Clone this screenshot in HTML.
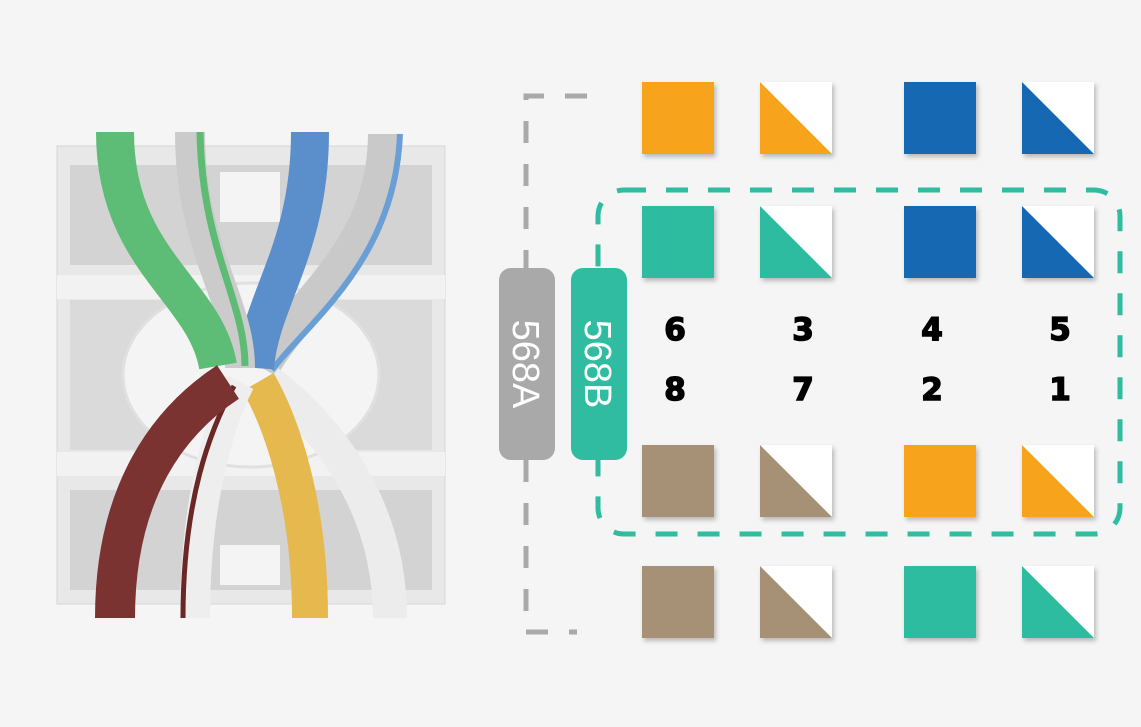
<!DOCTYPE html>
<html><head><style>
body{margin:0;width:1141px;height:722px;background:#f5f5f5;overflow:hidden;font-family:"Liberation Sans",sans-serif}
</style></head><body>
<svg width="1141" height="722" xmlns="http://www.w3.org/2000/svg">
<defs>
<filter id="sh" x="-20%" y="-20%" width="150%" height="150%"><feDropShadow dx="2" dy="3" stdDeviation="2.5" flood-color="#000" flood-opacity="0.25"/></filter>
</defs>
<!-- connector body -->
<rect x="57" y="146" width="388" height="458" fill="#e8e8e8" stroke="#d6d6d6"/>
<rect x="70" y="165" width="362" height="100" fill="#d3d3d3"/>
<rect x="70" y="490" width="362" height="100" fill="#d3d3d3"/>
<rect x="57" y="275" width="388" height="24" fill="#f2f2f2"/>
<rect x="57" y="452" width="388" height="24" fill="#f2f2f2"/>
<rect x="70" y="300" width="362" height="150" fill="#dadada"/>
<ellipse cx="251" cy="375" rx="128" ry="92" fill="#f4f4f4" stroke="#e0e0e0" stroke-width="3"/>
<rect x="220" y="172" width="60" height="50" fill="#f4f4f4"/>
<rect x="220" y="545" width="60" height="40" fill="#f4f4f4"/>
<!-- wires top -->
<g fill="none" stroke-linecap="butt">
<path d="M385,134 C385,250 300,300 262,368" stroke="#c9c9c9" stroke-width="34"/>
<path d="M400,134 C395,260 310,320 272,370" stroke="#6a9fd6" stroke-width="6"/>
<path d="M310,132 C310,250 260,300 255,368" stroke="#5b8fcc" stroke-width="38"/>
<path d="M190,132 C190,250 240,300 240,368" stroke="#cbcbcb" stroke-width="30"/>
<path d="M200,132 C202,250 245,300 245,366" stroke="#5dbb74" stroke-width="7"/>
<path d="M115,132 C115,260 205,290 218,366" stroke="#5dbd76" stroke-width="38"/>
<!-- wires bottom -->
<path d="M390,618 C390,500 320,420 268,382" stroke="#ececec" stroke-width="34"/>
<path d="M310,618 C310,500 280,420 258,382" stroke="#e6b94e" stroke-width="36"/>
<path d="M195,618 C195,500 220,420 240,382" stroke="#eeeeee" stroke-width="30"/>
<path d="M183,618 C183,500 210,430 234,386" stroke="#6b2626" stroke-width="5"/>
<path d="M115,618 C115,490 170,420 228,382" stroke="#7a3331" stroke-width="40"/>
</g>
<!-- bracket 568A -->
<g stroke="#a9a9a9" stroke-width="5" fill="none" stroke-dasharray="22,21">
<path d="M587,96 H526 V268"/>
<path d="M526,460 V632 H577"/>
</g>
<!-- teal dashed rect -->
<rect x="598" y="190" width="522" height="344" rx="26" fill="none" stroke="#2fbca0" stroke-width="5" stroke-dasharray="22,20"/>
<!-- pills -->
<rect x="499" y="268" width="56" height="192" rx="12" fill="#a9a9a9"/>
<rect x="571" y="268" width="56" height="192" rx="12" fill="#2fbca0"/>
<text transform="translate(513,364) rotate(90)" text-anchor="middle" font-size="38" fill="#fff" font-family="Liberation Sans">568A</text>
<text transform="translate(585,364) rotate(90)" text-anchor="middle" font-size="38" fill="#fff" font-family="Liberation Sans">568B</text>
<!-- squares -->
<g filter="url(#sh)">
<rect x="642" y="82" width="72" height="72" fill="#f7a41c"/>
<rect x="760" y="82" width="72" height="72" fill="#fff"/><polygon points="760,82 832,154 760,154" fill="#f7a41c"/>
<rect x="904" y="82" width="72" height="72" fill="#1868b2"/>
<rect x="1022" y="82" width="72" height="72" fill="#fff"/><polygon points="1022,82 1094,154 1022,154" fill="#1868b2"/>
<rect x="642" y="206" width="72" height="72" fill="#2fbca0"/>
<rect x="760" y="206" width="72" height="72" fill="#fff"/><polygon points="760,206 832,278 760,278" fill="#2fbca0"/>
<rect x="904" y="206" width="72" height="72" fill="#1868b2"/>
<rect x="1022" y="206" width="72" height="72" fill="#fff"/><polygon points="1022,206 1094,278 1022,278" fill="#1868b2"/>
<rect x="642" y="445" width="72" height="72" fill="#a69177"/>
<rect x="760" y="445" width="72" height="72" fill="#fff"/><polygon points="760,445 832,517 760,517" fill="#a69177"/>
<rect x="904" y="445" width="72" height="72" fill="#f7a41c"/>
<rect x="1022" y="445" width="72" height="72" fill="#fff"/><polygon points="1022,445 1094,517 1022,517" fill="#f7a41c"/>
<rect x="642" y="566" width="72" height="72" fill="#a69177"/>
<rect x="760" y="566" width="72" height="72" fill="#fff"/><polygon points="760,566 832,638 760,638" fill="#a69177"/>
<rect x="904" y="566" width="72" height="72" fill="#2fbca0"/>
<rect x="1022" y="566" width="72" height="72" fill="#fff"/><polygon points="1022,566 1094,638 1022,638" fill="#2fbca0"/>
</g>
<g font-size="31" font-weight="bold" text-anchor="middle" fill="#000" stroke="#000" stroke-width="1.5" font-family="DejaVu Sans">
<text x="675" y="340">6</text><text x="803" y="340">3</text><text x="932" y="340">4</text><text x="1060" y="340">5</text>
<text x="675" y="400">8</text><text x="803" y="400">7</text><text x="932" y="400">2</text><text x="1060" y="400">1</text>
</g>
</svg>
</body></html>
